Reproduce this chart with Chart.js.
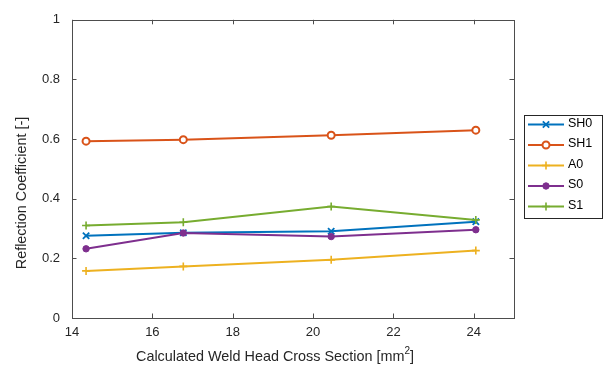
<!DOCTYPE html>
<html>
<head>
<meta charset="utf-8">
<script src="https://cdn.jsdelivr.net/npm/chart.js@4"></script>
<style>
  html, body { margin: 0; padding: 0; background: #fff; }
  #wrap { width: 606px; height: 368px; position: relative; }
</style>
</head>
<body>
<div id="wrap"><canvas id="c"></canvas></div>
<script>
// data
const xValues = [14.35, 16.77, 20.45, 24.05];
const seriesNames = ['SH0', 'SH1', 'A0', 'S0', 'S1'];
const sh0 = [0.276, 0.286, 0.291, 0.323];
const sh1 = [0.593, 0.598, 0.613, 0.630];
const a0 = [0.158, 0.173, 0.195, 0.226];
const s0 = [0.232, 0.285, 0.273, 0.296];
const s1 = [0.310, 0.321, 0.374, 0.329];
const xTicks = [14, 16, 18, 20, 22, 24];
const yTicks = [0, 0.2, 0.4, 0.6, 0.8, 1];
const xTitle = 'Calculated Weld Head Cross Section [mm';
const yTitle = 'Reflection Coefficient [-]';

const colors = ['#0072BD', '#D95319', '#EDB120', '#7E2F8E', '#77AC30'];
const styles = ['crossRot', 'circle', 'cross', 'circle', 'cross'];
const fills = ['#0072BD', '#ffffff', '#EDB120', '#7E2F8E', '#77AC30'];
const radii = [4.5, 3.5, 4, 3.2, 4];
const pointBorders = [1.8, 2, 1.6, 1, 1.6];
const allSeries = [sh0, sh1, a0, s0, s1];

const font = '"Liberation Sans", Arial, Helvetica, sans-serif';
const axisColor = '#4d4d4d';
const textColor = '#262626';

const datasets = allSeries.map((vals, i) => ({
  label: seriesNames[i],
  data: vals.map((v, j) => ({ x: xValues[j], y: v })),
  showLine: true,
  borderColor: colors[i],
  backgroundColor: fills[i],
  borderWidth: 2,
  pointStyle: styles[i],
  pointRadius: radii[i],
  pointBorderColor: colors[i],
  pointBackgroundColor: fills[i],
  pointBorderWidth: pointBorders[i],
  order: allSeries.length - i
}));

// box, inward ticks, axis titles and the legend, MATLAB style
const matlabBox = {
  id: 'matlabBox',
  afterDraw(chart) {
    const ctx = chart.ctx;
    const a = chart.chartArea;
    const xs = chart.scales.x, ys = chart.scales.y;
    ctx.save();
    ctx.strokeStyle = axisColor;
    ctx.lineWidth = 1;
    ctx.strokeRect(Math.round(a.left) + 0.5, Math.round(a.top) + 0.5,
      Math.round(a.right - a.left), Math.round(a.bottom - a.top));
    ctx.beginPath();
    const tl = 4.5;
    xs.ticks.forEach(t => {
      const px = Math.round(xs.getPixelForValue(t.value)) + 0.5;
      ctx.moveTo(px, a.bottom); ctx.lineTo(px, a.bottom - tl);
      ctx.moveTo(px, a.top); ctx.lineTo(px, a.top + tl);
    });
    ys.ticks.forEach(t => {
      const py = Math.round(ys.getPixelForValue(t.value)) + 0.5;
      ctx.moveTo(a.left, py); ctx.lineTo(a.left + tl, py);
      ctx.moveTo(a.right, py); ctx.lineTo(a.right - tl, py);
    });
    ctx.stroke();

    // axis titles
    ctx.fillStyle = textColor;
    ctx.textBaseline = 'middle';
    ctx.font = '14.4px ' + font;
    const w1 = ctx.measureText(xTitle).width;
    ctx.font = '10px ' + font;
    const w2 = ctx.measureText('2').width;
    ctx.font = '14.4px ' + font;
    const w3 = ctx.measureText(']').width;
    let tx = 275 - (w1 + w2 + w3) / 2;
    const ty = 357;
    ctx.textAlign = 'left';
    ctx.fillText(xTitle, tx, ty);
    ctx.font = '10px ' + font;
    ctx.fillText('2', tx + w1, ty - 6);
    ctx.font = '14.4px ' + font;
    ctx.fillText(']', tx + w1 + w2, ty);

    ctx.save();
    ctx.translate(22, 193);
    ctx.rotate(-Math.PI / 2);
    ctx.textAlign = 'center';
    ctx.fillText(yTitle, 0, 0);
    ctx.restore();

    // legend
    const lx = 524, ly = 115, lw = 78, lh = 103;
    ctx.fillStyle = '#fff';
    ctx.fillRect(lx, ly, lw, lh);
    ctx.strokeStyle = '#262626';
    ctx.lineWidth = 1;
    ctx.strokeRect(lx + 0.5, ly + 0.5, lw, lh);
    chart.data.datasets.forEach((ds, i) => {
      const y = ly + 9.5 + i * 20.5;
      ctx.strokeStyle = ds.borderColor;
      ctx.lineWidth = 2;
      ctx.beginPath();
      ctx.moveTo(lx + 4, y); ctx.lineTo(lx + 40, y);
      ctx.stroke();
      ctx.fillStyle = ds.pointBackgroundColor;
      ctx.strokeStyle = ds.pointBorderColor;
      ctx.lineWidth = ds.pointBorderWidth;
      Chart.helpers.drawPoint(ctx, {
        pointStyle: ds.pointStyle, radius: ds.pointRadius,
        borderWidth: ds.pointBorderWidth, rotation: 0
      }, lx + 22, y);
      ctx.fillStyle = '#000';
      ctx.font = '12.5px ' + font;
      ctx.textBaseline = 'middle';
      ctx.textAlign = 'left';
      ctx.fillText(ds.label, lx + 44, y - 1);
    });
    ctx.restore();
  }
};

new Chart(document.getElementById('c'), {
  type: 'scatter',
  data: { datasets },
  options: {
    responsive: true,
    maintainAspectRatio: false,
    animation: false,
    layout: { padding: { top: 16, right: 92, left: 0, bottom: 0 } },
    plugins: { legend: { display: false }, tooltip: { enabled: false } },
    scales: {
      x: {
        type: 'linear',
        min: 14, max: 25,
        afterBuildTicks: s => { s.ticks = xTicks.map(v => ({ value: v })); },
        afterFit: s => { s.height = 50; },
        grid: { display: false, drawTicks: false },
        border: { display: false },
        ticks: { color: textColor, font: { family: font, size: 13 }, padding: 7, maxRotation: 0,
          callback: v => String(v) }
      },
      y: {
        type: 'linear',
        min: 0, max: 1,
        afterBuildTicks: s => { s.ticks = yTicks.map(v => ({ value: v })); },
        afterFit: s => { s.width = 72; },
        grid: { display: false, drawTicks: false },
        border: { display: false },
        ticks: { color: textColor, font: { family: font, size: 13 }, padding: 12,
          callback: v => String(v) }
      }
    }
  },
  plugins: [matlabBox]
});
</script>
</body>
</html>
